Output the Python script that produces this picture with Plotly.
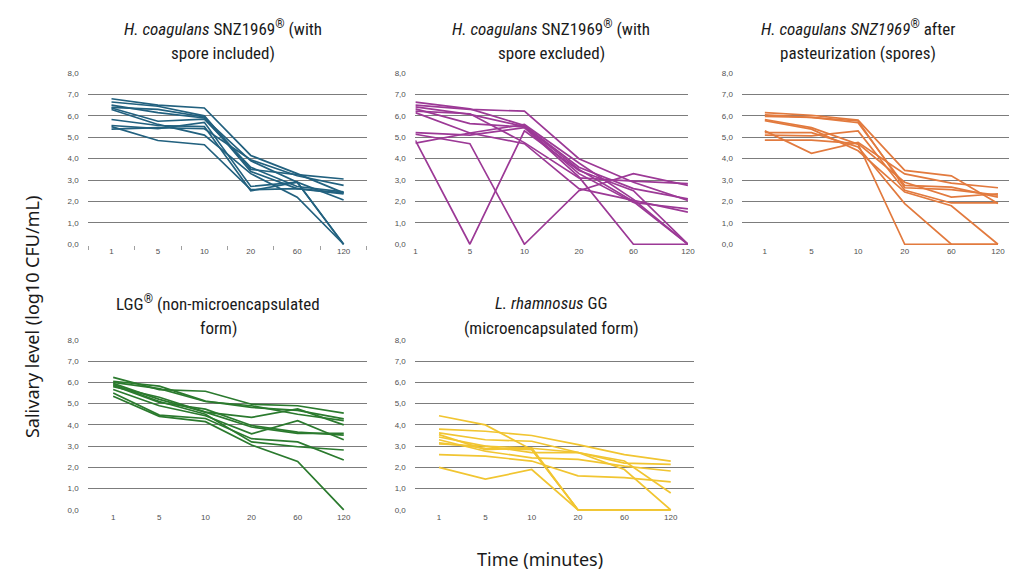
import plotly.graph_objects as go

# time points (minutes), shown as categories
time_labels = ["1", "5", "10", "20", "60", "120"]

# H. coagulans SNZ1969 - spore included (log10 CFU/mL)
spore_included = [
    [6.80, 6.50, 6.37, 4.15, 3.30, 2.40],
    [6.65, 6.45, 6.00, 3.50, 3.25, 3.05],
    [6.50, 6.15, 5.90, 3.90, 2.90, 0.00],
    [6.37, 5.75, 5.85, 3.60, 2.70, 2.45],
    [6.30, 5.60, 5.10, 3.30, 2.20, 0.00],
    [5.83, 5.55, 5.50, 2.50, 2.90, 0.00],
    [5.55, 5.40, 5.70, 2.70, 2.90, 2.07],
    [5.50, 4.85, 4.65, 2.55, 2.60, 2.35],
    [5.38, 5.45, 5.40, 3.95, 3.20, 2.75],
    [6.40, 6.30, 5.95, 3.40, 2.60, 2.40],
]

# H. coagulans SNZ1969 - spore excluded
spore_excluded = [
    [6.64, 6.33, 5.55, 3.60, 2.60, 2.12],
    [6.50, 6.30, 6.22, 4.00, 2.90, 2.05],
    [6.42, 6.07, 5.50, 3.50, 2.00, 0.00],
    [6.33, 5.64, 5.48, 3.30, 1.95, 1.65],
    [6.22, 6.10, 4.75, 3.10, 2.95, 2.83],
    [6.15, 5.20, 4.70, 2.60, 2.05, 1.50],
    [5.22, 5.10, 5.45, 3.15, 0.00, 0.00],
    [5.14, 4.70, 0.00, 2.50, 3.30, 2.75],
    [4.86, 0.00, 5.30, 3.45, 2.50, 0.00],
    [4.73, 5.20, 5.60, 3.80, 2.10, 0.00],
]

# H. coagulans SNZ1969 - after pasteurization (spores)
pasteurized = [
    [6.15, 6.03, 5.80, 3.45, 3.20, 1.90],
    [6.05, 5.93, 5.76, 2.64, 2.55, 2.30],
    [5.98, 5.93, 5.68, 2.75, 2.67, 2.20],
    [5.83, 5.45, 4.68, 0.00, 0.00, 0.00],
    [5.78, 5.38, 4.37, 2.44, 1.80, 0.00],
    [5.30, 4.25, 4.76, 3.29, 2.86, 2.64],
    [5.22, 5.22, 4.55, 1.90, 0.00, 0.00],
    [5.10, 5.07, 5.30, 2.52, 1.93, 1.93],
    [4.87, 4.87, 4.70, 2.90, 2.20, 2.36],
]

# LGG (non-microencapsulated)
lgg_free = [
    [6.23, 5.66, 5.58, 4.97, 4.90, 4.55],
    [6.05, 5.82, 5.12, 4.82, 4.68, 4.28],
    [5.95, 5.20, 4.60, 4.35, 4.75, 4.00],
    [5.85, 5.05, 4.74, 3.97, 3.66, 3.52],
    [5.66, 4.90, 4.43, 3.58, 4.20, 3.30],
    [5.50, 4.46, 4.30, 3.35, 3.20, 2.35],
    [5.35, 4.40, 4.15, 3.05, 2.28, 0.00],
    [5.90, 5.10, 4.50, 3.20, 2.97, 2.82],
    [6.00, 5.70, 5.10, 4.90, 4.50, 4.20],
    [5.80, 5.30, 4.60, 3.90, 3.60, 3.60],
]

# L. rhamnosus GG (microencapsulated)
lgg_micro = [
    [4.43, 4.00, 2.84, 0.00, 0.00, 0.00],
    [3.80, 3.70, 3.50, 3.07, 2.60, 2.30],
    [3.62, 3.30, 3.23, 2.70, 1.90, 0.00],
    [3.54, 2.84, 2.92, 0.00, 0.00, 0.00],
    [3.43, 3.00, 2.70, 2.70, 2.30, 0.80],
    [3.30, 2.76, 2.45, 2.38, 2.06, 1.83],
    [3.15, 2.90, 2.84, 0.00, 0.00, 0.00],
    [2.60, 2.53, 2.30, 1.60, 1.52, 1.32],
    [2.00, 1.45, 1.90, 0.00, 0.00, 0.00],
    [3.10, 3.00, 2.90, 2.70, 2.20, 2.14],
]

W, H = 1017, 572


def fx(px):
    return px / W


def fy(px):
    return 1 - px / H


REG = "<sup>®</sup>"

panels = [
    dict(data=spore_included, color="#22617f", x0=79, x1=360, top=63, bot=236,
         xr=[-0.5, 5.5], bticks=True,
         title=["<i>H. coagulans</i> SNZ1969" + REG + " (with", "spore included)"], tx=215, ty=[17, 43]),
    dict(data=spore_excluded, color="#9c3996", x0=409, x1=684, top=63, bot=236,
         xr=[0, 5], bticks=False,
         title=["<i>H. coagulans</i> SNZ1969" + REG + " (with", "spore excluded)"], tx=546, ty=[17, 43]),
    dict(data=pasteurized, color="#e27a3e", x0=739, x1=1017, top=63, bot=236,
         xr=[-0.48, 5.43], bticks=False,
         title=["<i>H. coagulans SNZ1969</i>" + REG + " after", "pasteurization (spores)"], tx=856, ty=[17, 43]),
    dict(data=lgg_free, color="#2b7a2e", x0=79, x1=360, top=333, bot=505,
         xr=[-0.54, 5.5], bticks=False,
         title=["LGG" + REG + " (non-microencapsulated", "form)"], tx=210, ty=[296, 321]),
    dict(data=lgg_micro, color="#f1c531", x0=409, x1=690, top=333, bot=505,
         xr=[-0.51, 5.5], bticks=False,
         title=["<i>L. rhamnosus</i> GG", "(microencapsulated form)"], tx=546, ty=[296, 321]),
]

fig = go.Figure()
layout = {}
annotations = []
ytick_vals = [0, 1, 2, 3, 4, 5, 6, 7, 8]
ytick_text = ["0,0", "1,0", "2,0", "3,0", "4,0", "5,0", "6,0", "7,0", "8,0"]

for i, p in enumerate(panels):
    n = "" if i == 0 else str(i + 1)
    for series in p["data"]:
        fig.add_trace(go.Scatter(
            x=time_labels, y=series, mode="lines",
            line=dict(color=p["color"], width=1.7),
            xaxis="x" + n, yaxis="y" + n, showlegend=False,
        ))
    layout["xaxis" + n] = dict(
        domain=[fx(p["x0"]), fx(p["x1"])], anchor="y" + n, type="category",
        range=p["xr"], showgrid=False, zeroline=False, showline=False,
        tickfont=dict(family="Liberation Sans, Arial", size=8, color="#505050"),
        ticks="outside" if p["bticks"] else "", tickson="boundaries",
        ticklen=4, tickcolor="#a0a0a0",
        fixedrange=True,
    )
    layout["yaxis" + n] = dict(
        domain=[fy(p["bot"] + 1), fy(p["top"] - 1)], anchor="x" + n,
        range=[-0.04, 8.04], tickvals=ytick_vals, ticktext=ytick_text,
        showgrid=True, gridcolor="#7c7c7c", gridwidth=1, zeroline=False,
        showline=False, ticks="outside", ticklen=7, tickcolor="rgba(0,0,0,0)",
        tickfont=dict(family="Liberation Sans, Arial", size=8, color="#505050"),
        fixedrange=True,
    )
    for line, yy in zip(p["title"], p["ty"]):
        annotations.append(dict(
            text=line, x=fx(p["tx"]), y=fy(yy), xref="paper", yref="paper",
            xanchor="center", yanchor="middle", showarrow=False,
            font=dict(family="Roboto Condensed, Liberation Sans Narrow, Roboto", size=17, color="#1a1a1a"),
        ))

annotations.append(dict(
    text="Salivary level (log10 CFU/mL)", x=fx(22), y=fy(310), xref="paper", yref="paper",
    textangle=-90, showarrow=False, xanchor="center", yanchor="middle",
    font=dict(family="Noto Sans", size=18, color="#1a1a1a"),
))
annotations.append(dict(
    text="Time (minutes)", x=fx(535), y=fy(555), xref="paper", yref="paper",
    showarrow=False, xanchor="center", yanchor="middle",
    font=dict(family="Noto Sans", size=18, color="#1a1a1a"),
))

fig.update_layout(
    width=W, height=H,
    margin=dict(l=0, r=0, t=0, b=0),
    paper_bgcolor="white", plot_bgcolor="white",
    annotations=annotations,
    **layout,
)

fig.write_html("out.html")
